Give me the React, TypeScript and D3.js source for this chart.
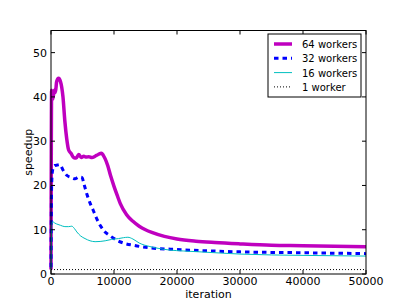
import { useEffect, useRef } from "react"
import * as d3 from "d3"

// speedup vs iteration
const iter64 = [0, 100, 300, 500, 700, 900, 1200, 1500, 1900, 2200, 2500, 2800, 3200, 3600, 4000, 4400, 4800, 5200, 5600, 6000, 6500, 7000, 7500, 8000, 8300, 8600, 9000, 9500, 10000, 10500, 11000, 12000, 13000, 14000, 15000, 16000, 18000, 20000, 23000, 26000, 30000, 35000, 40000, 45000, 50000]
const speed64 = [1, 41.5, 39.5, 41.5, 41, 43.5, 44.2, 43.5, 40, 34.5, 30.5, 28, 27.2, 26.3, 26.2, 27, 26.3, 26.6, 26.4, 26.5, 26.3, 26.6, 27, 27.3, 26.8, 26, 24.5, 22, 19.8, 17.8, 15.9, 13.4, 11.9, 10.8, 10, 9.4, 8.5, 7.9, 7.4, 7.1, 6.8, 6.5, 6.4, 6.25, 6.15]

const iter32 = [0, 100, 250, 600, 1000, 1400, 1900, 2500, 3200, 3800, 4400, 4900, 5300, 5700, 6200, 6700, 7200, 7800, 8500, 9400, 10500, 11700, 13000, 15700, 19000, 23650, 30000, 40000, 50000]
const speed32 = [1.5, 20, 23.4, 24.5, 24.6, 24.7, 23.5, 22.3, 21.8, 21.5, 21.9, 21.8, 20, 18, 16, 14.4, 12.7, 11, 9.6, 8.6, 7.6, 6.9, 6.5, 5.9, 5.6, 5.3, 5.0, 4.8, 4.6]

const iter16 = [0, 150, 300, 600, 900, 1500, 2200, 2800, 3300, 3700, 4100, 4700, 5400, 6200, 7000, 7800, 8600, 9600, 10700, 11500, 12200, 13000, 14000, 15700, 17000, 18900, 21000, 23650, 30000, 40000, 50000]
const speed16 = [1, 11.5, 11.8, 11.5, 11.3, 11, 10.7, 10.7, 10.8, 10.3, 9.5, 8.6, 8.0, 7.5, 7.3, 7.35, 7.5, 7.8, 8.0, 8.2, 8.3, 7.9, 7.0, 6.2, 5.8, 5.4, 5.2, 5.0, 4.5, 4.2, 4.05]

const iter1 = [0, 50000]
const speed1 = [1, 1]

const xTicks = [0, 10000, 20000, 30000, 40000, 50000]
const yTicks = [0, 10, 20, 30, 40, 50]

const series = [
  { label: "64 workers", xs: iter64, ys: speed64, color: "#bf00bf", width: 3.5, dash: "" },
  { label: "32 workers", xs: iter32, ys: speed32, color: "#0000ff", width: 3, dash: "4.5,4" },
  { label: "16 workers", xs: iter16, ys: speed16, color: "#00bfbf", width: 1, dash: "" },
  { label: "1 worker", xs: iter1, ys: speed1, color: "#000000", width: 1, dash: "1,2" },
]

const App = () => {
  const ref = useRef<SVGSVGElement>(null)

  useEffect(() => {
    const W = 407
    const H = 305
    const margin = { top: 30.5, right: 41, bottom: 31, left: 51 }
    const width = W - margin.left - margin.right
    const height = H - margin.top - margin.bottom

    const root = d3.select(ref.current)
    root.selectAll("*").remove()
    const svg = root.append("g").attr("transform", "translate(" + margin.left + "," + margin.top + ")")

    const x = d3.scaleLinear().domain([0, 50000]).range([0, width])
    const y = d3.scaleLinear().domain([0, 55]).range([height, 0])

    const font = "'DejaVu Sans', sans-serif"

    // lines
    series.forEach((s) => {
      const pts = s.xs.map((v, i) => [v, s.ys[i]] as [number, number])
      const line = d3
        .line<[number, number]>()
        .x((d) => x(d[0]))
        .y((d) => y(d[1]))
        .curve(d3.curveMonotoneX)
      svg
        .append("path")
        .datum(pts)
        .attr("d", line)
        .attr("fill", "none")
        .attr("stroke", s.color)
        .attr("stroke-width", s.width)
        .attr("stroke-dasharray", s.dash || null)
        .attr("stroke-linejoin", "round")
    })

    // frame
    svg
      .append("rect")
      .attr("width", width)
      .attr("height", height)
      .attr("fill", "none")
      .attr("stroke", "#000")
      .attr("stroke-width", 1)

    // ticks, pointing in, on all four sides
    const tl = 4
    xTicks.forEach((t) => {
      svg.append("line").attr("x1", x(t)).attr("x2", x(t)).attr("y1", height).attr("y2", height - tl).attr("stroke", "#000")
      svg.append("line").attr("x1", x(t)).attr("x2", x(t)).attr("y1", 0).attr("y2", tl).attr("stroke", "#000")
      svg
        .append("text")
        .attr("x", x(t))
        .attr("y", height + 11)
        .attr("text-anchor", "middle")
        .attr("font-family", font)
        .attr("font-size", "11px")
        .text(t)
    })
    yTicks.forEach((t) => {
      svg.append("line").attr("x1", 0).attr("x2", tl).attr("y1", y(t)).attr("y2", y(t)).attr("stroke", "#000")
      svg.append("line").attr("x1", width).attr("x2", width - tl).attr("y1", y(t)).attr("y2", y(t)).attr("stroke", "#000")
      svg
        .append("text")
        .attr("x", -4)
        .attr("y", y(t) + 4)
        .attr("text-anchor", "end")
        .attr("font-family", font)
        .attr("font-size", "11px")
        .text(t)
    })

    // axis labels
    svg
      .append("text")
      .attr("x", width / 2)
      .attr("y", height + 24)
      .attr("text-anchor", "middle")
      .attr("font-family", font)
      .attr("font-size", "11px")
      .text("iteration")
    svg
      .append("text")
      .attr("transform", "translate(-19," + height / 2 + ")rotate(-90)")
      .attr("text-anchor", "middle")
      .attr("font-family", font)
      .attr("font-size", "11px")
      .text("speedup")

    // legend
    const lg = svg.append("g").attr("transform", "translate(" + (268 - margin.left) + "," + (34 - margin.top) + ")")
    lg.append("rect").attr("width", 93).attr("height", 63).attr("fill", "#fff").attr("stroke", "#000").attr("stroke-width", 1)
    series.forEach((s, i) => {
      const cy = 10 + i * 14.3
      lg.append("line")
        .attr("x1", 6)
        .attr("x2", 24)
        .attr("y1", cy)
        .attr("y2", cy)
        .attr("stroke", s.color)
        .attr("stroke-width", s.width)
        .attr("stroke-dasharray", s.dash || null)
      lg.append("text")
        .attr("x", 34)
        .attr("y", cy + 4)
        .attr("font-family", font)
        .attr("font-size", "10px")
        .text(s.label)
    })
  }, [])

  return <svg ref={ref} width={407} height={305} style={{ position: "absolute", left: 0, top: 0, background: "#fff" }} />
}

export default App
